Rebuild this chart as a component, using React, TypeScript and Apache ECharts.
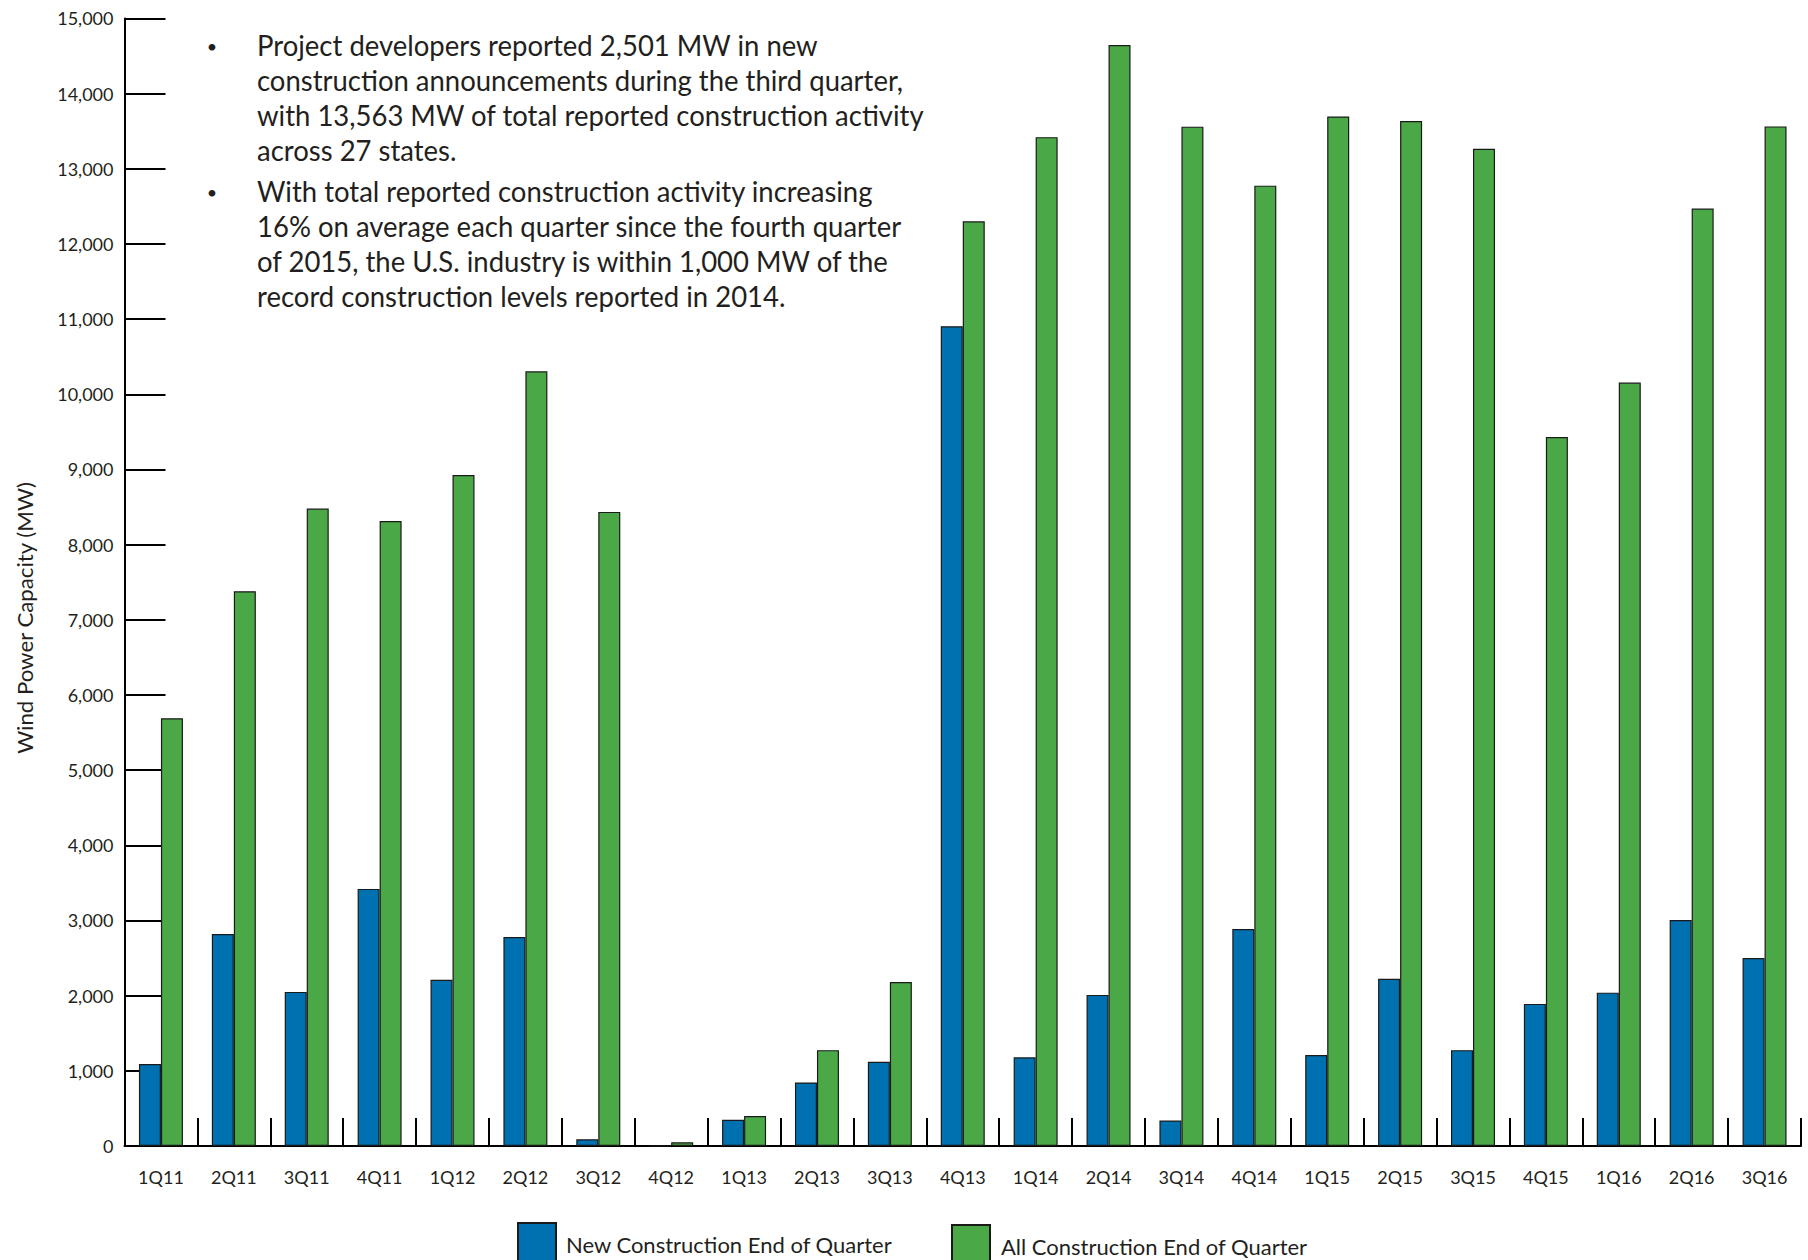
import React, { useEffect, useRef } from "react";
import * as echarts from "echarts";

const categories = [
  "1Q11", "2Q11", "3Q11", "4Q11", "1Q12", "2Q12", "3Q12", "4Q12",
  "1Q13", "2Q13", "3Q13", "4Q13", "1Q14", "2Q14", "3Q14", "4Q14",
  "1Q15", "2Q15", "3Q15", "4Q15", "1Q16", "2Q16", "3Q16",
];
const newConstruction = [
  1090, 2820, 2050, 3420, 2210, 2780, 90, 0,
  350, 845, 1120, 10905, 1180, 2010, 340, 2885,
  1210, 2225, 1275, 1890, 2040, 3005, 2501,
];
const allConstruction = [
  5690, 7380, 8480, 8315, 8925, 10305, 8435, 50,
  400, 1275, 2180, 12300, 13420, 14645, 13560, 12775,
  13695, 13635, 13265, 9430, 10155, 12470, 13563,
];
const seriesNames = ["New Construction End of Quarter", "All Construction End of Quarter"];
const yMin = 0;
const yMax = 15000;
const yInterval = 1000;
const yAxisTitle = "Wind Power Capacity (MW)";
const bulletOne = [
  "Project developers reported 2,501 MW in new",
  "construction announcements during the third quarter,",
  "with 13,563 MW of total reported construction activity",
  "across 27 states.",
];
const bulletTwo = [
  "With total reported construction activity increasing",
  "16% on average each quarter since the fourth quarter",
  "of 2015, the U.S. industry is within 1,000 MW of the",
  "record construction levels reported in 2014.",
];

const FONT = "Lato, 'Open Sans', sans-serif";
const INK = "#231f20";
const BLUE = "#0071b0";
const GREEN = "#4aa846";

function measure(text: string, font: string): number {
  const ctx = document.createElement("canvas").getContext("2d");
  if (!ctx) return 1;
  ctx.font = font;
  return ctx.measureText(text).width;
}

export default function App() {
  const ref = useRef<HTMLDivElement>(null);
  useEffect(() => {
    if (!ref.current) return;
    const chart = echarts.init(ref.current, undefined, { renderer: "svg" });

    const paraSize = 28;
    const paraFont = `${paraSize}px Lato`;
    // fit the paragraph width to the reference's line lengths (average over several lines)
    const fits: [string, number][] = [
      [bulletOne[1], 662],
      [bulletOne[2], 660],
      [bulletTwo[0], 620],
      [bulletTwo[1], 651],
      [bulletTwo[2], 616],
    ];
    const paraScale =
      fits.reduce((s, [t, w]) => s + w / measure(t, paraFont), 0) / fits.length;
    const nameSize = 21;
    const nameScale = 273 / measure(yAxisTitle, `${nameSize}px Lato`);
    const lineH = 35;

    const legendText = { fontSize: 22, fontFamily: FONT, color: INK };

    chart.setOption({
      animation: false,
      grid: { left: 124.5, right: 7, top: 18.4, bottom: 114, containLabel: false },
      xAxis: {
        type: "category",
        data: categories,
        boundaryGap: true,
        axisLine: { show: true, lineStyle: { color: "#000", width: 2 } },
        axisTick: { show: true, inside: true, length: 28, alignWithLabel: false, lineStyle: { color: "#000", width: 2 } },
        axisLabel: { margin: 22, fontSize: 18, fontFamily: FONT, color: INK, interval: 0 },
        splitLine: { show: false },
      },
      yAxis: {
        type: "value",
        min: yMin,
        max: yMax,
        interval: yInterval,
        axisLine: { show: true, lineStyle: { color: "#000", width: 2 } },
        axisTick: { show: true, inside: true, length: 41, lineStyle: { color: "#000", width: 2 } },
        axisLabel: {
          margin: 11,
          fontSize: 18,
          fontFamily: FONT,
          color: INK,
          formatter: (v: number) => v.toLocaleString("en-US"),
        },
        splitLine: { show: false },
      },
      legend: [
        {
          data: [seriesNames[0]],
          left: 517,
          top: 1222,
          padding: 0,
          icon: "rect",
          itemWidth: 38,
          itemHeight: 42,
          textStyle: { ...legendText, padding: [0, 0, 7, 5] },
        },
        {
          data: [seriesNames[1]],
          left: 951,
          top: 1224,
          padding: 0,
          icon: "rect",
          itemWidth: 38,
          itemHeight: 42,
          textStyle: { ...legendText, padding: [0, 0, 7, 6] },
        },
      ],
      series: [
        {
          name: seriesNames[0],
          type: "bar",
          data: newConstruction,
          barWidth: 22,
          barGap: "0%",
          itemStyle: { color: BLUE, borderColor: "#1a1a1a", borderWidth: 1.2 },
        },
        {
          name: seriesNames[1],
          type: "bar",
          data: allConstruction,
          barWidth: 22,
          barGap: "0%",
          itemStyle: { color: GREEN, borderColor: "#1a1a1a", borderWidth: 1.2 },
        },
      ],
      graphic: [
        {
          type: "text",
          x: 25,
          y: 618,
          rotation: Math.PI / 2,
          scaleX: nameScale,
          style: {
            text: yAxisTitle,
            fontSize: nameSize,
            fontFamily: FONT,
            fill: INK,
            align: "center",
            verticalAlign: "middle",
          },
        },
        {
          type: "text",
          x: 212,
          y: 46,
          style: { text: "•", fontSize: 18, fontFamily: FONT, fill: INK, align: "center", verticalAlign: "middle" },
        },
        {
          type: "text",
          x: 212,
          y: 192,
          style: { text: "•", fontSize: 18, fontFamily: FONT, fill: INK, align: "center", verticalAlign: "middle" },
        },
        {
          type: "text",
          x: 257,
          y: 45 - lineH / 2,
          scaleX: paraScale,
          style: {
            text: bulletOne.join("\n"),
            fontSize: paraSize,
            fontFamily: FONT,
            fill: INK,
            lineHeight: lineH,
            align: "left",
            verticalAlign: "top",
          },
        },
        {
          type: "text",
          x: 257,
          y: 191 - lineH / 2,
          scaleX: paraScale,
          style: {
            text: bulletTwo.join("\n"),
            fontSize: paraSize,
            fontFamily: FONT,
            fill: INK,
            lineHeight: lineH,
            align: "left",
            verticalAlign: "top",
          },
        },
      ],
    });
    return () => chart.dispose();
  }, []);
  return (
    <div
      ref={ref}
      style={{ position: "absolute", left: 0, top: 0, width: 1808, height: 1260, background: "#fff" }}
    />
  );
}
